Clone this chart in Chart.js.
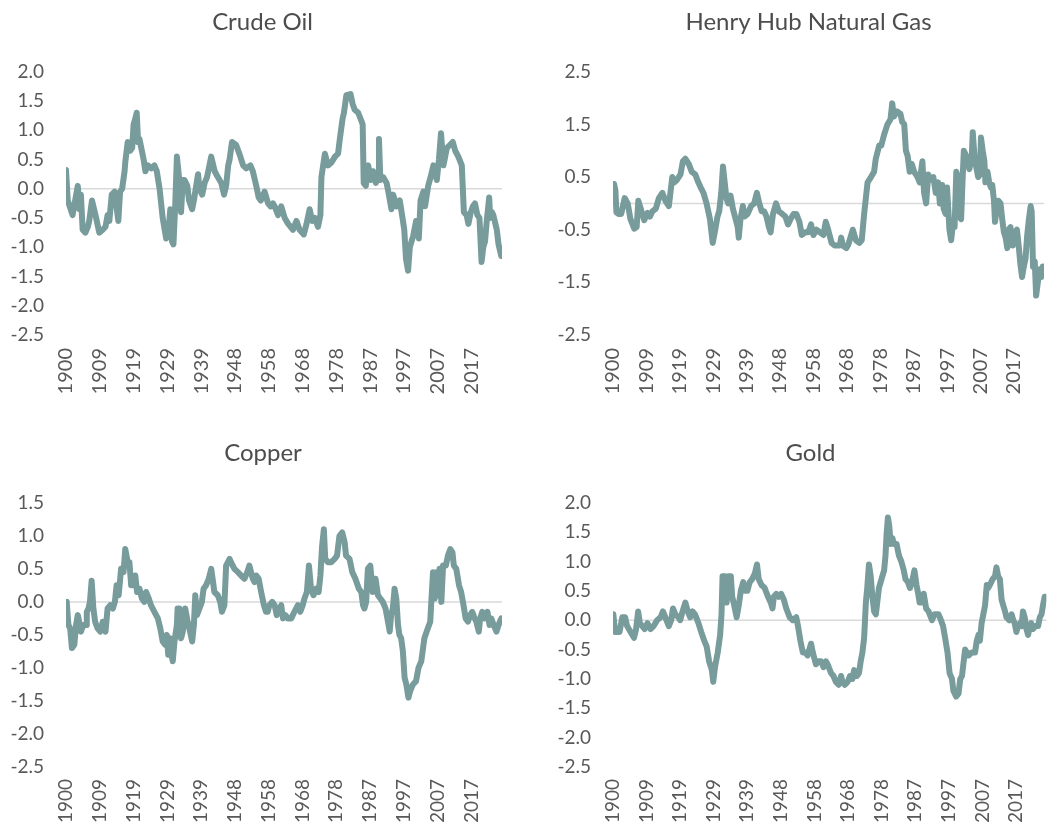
<!DOCTYPE html>
<html>
<head>
<meta charset="utf-8">
<script src="https://cdn.jsdelivr.net/npm/chart.js@4"></script>
<style>
  html, body { margin: 0; padding: 0; background: #fff; overflow: hidden; }
  .panel { position: absolute; }
</style>
</head>
<body>
<div class="panel" style="left:0;top:0;width:525px;height:410px"><canvas id="oil"></canvas></div>
<div class="panel" style="left:530px;top:0;width:521px;height:410px"><canvas id="gas"></canvas></div>
<div class="panel" style="left:0;top:431px;width:525px;height:392px"><canvas id="copper"></canvas></div>
<div class="panel" style="left:530px;top:431px;width:521px;height:392px"><canvas id="gold"></canvas></div>
<script>
// x axis tick labels and where they sit (in years)
const tickLabels = ['1900', '1909', '1919', '1929', '1939', '1948', '1958', '1968', '1978', '1987', '1997', '2007', '2017'];
const tickYears = [1900, 1909.75, 1919.5, 1929.25, 1939, 1948.75, 1958.5, 1968.25, 1978, 1987.75, 1997.5, 2007.25, 2017];

// Crude Oil
const oilYears = [1900.0, 1900.5, 1901.9, 1903.4, 1903.9, 1904.3, 1904.8, 1905.6, 1906.3, 1906.7, 1907.5, 1908.7, 1909.6, 1910.6, 1911.4, 1912.0, 1912.5, 1913.2, 1914.0, 1915.1, 1915.6, 1916.2, 1916.9, 1917.1, 1917.8, 1918.5, 1919.1, 1919.5, 1920.0, 1920.4, 1920.8, 1921.2, 1922.4, 1922.9, 1923.6, 1924.6, 1925.5, 1926.2, 1927.0, 1927.9, 1928.9, 1929.6, 1930.1, 1930.6, 1931.0, 1931.5, 1932.0, 1932.6, 1933.2, 1933.7, 1934.2, 1935.0, 1935.5, 1936.4, 1936.9, 1938.1, 1938.5, 1939.3, 1940.0, 1940.7, 1941.9, 1942.9, 1943.8, 1944.8, 1945.6, 1946.2, 1946.8, 1947.2, 1947.9, 1949.1, 1950.3, 1951.1, 1952.0, 1953.2, 1953.9, 1954.9, 1955.6, 1956.2, 1957.3, 1958.3, 1959.0, 1959.7, 1960.2, 1961.2, 1962.1, 1963.1, 1964.1, 1965.5, 1966.5, 1967.4, 1968.6, 1969.4, 1970.3, 1971.0, 1971.8, 1972.7, 1973.4, 1973.7, 1974.7, 1975.6, 1976.6, 1977.6, 1978.5, 1979.0, 1979.8, 1980.2, 1980.9, 1982.1, 1982.7, 1983.3, 1984.3, 1985.3, 1985.6, 1985.9, 1986.5, 1987.2, 1987.9, 1988.6, 1989.4, 1990.1, 1990.3, 1990.7, 1991.5, 1992.5, 1993.0, 1993.9, 1994.4, 1995.4, 1996.3, 1997.1, 1997.6, 1998.1, 1998.7, 1999.2, 2000.2, 2001.0, 2001.3, 2001.8, 2002.3, 2003.1, 2003.6, 2004.5, 2005.2, 2006.0, 2007.0, 2007.6, 2008.2, 2008.9, 2009.9, 2010.8, 2011.6, 2012.3, 2013.2, 2014.2, 2014.5, 2014.8, 2015.6, 2016.1, 2016.8, 2017.4, 2018.0, 2018.7, 2019.3, 2019.9, 2020.4, 2020.9, 2021.4, 2022.1, 2022.4, 2022.9, 2023.3, 2024.3, 2024.8, 2025.6];
const oilValues = [0.32, -0.2, -0.45, 0.05, -0.35, -0.1, -0.7, -0.75, -0.65, -0.55, -0.2, -0.5, -0.75, -0.7, -0.65, -0.45, -0.55, -0.1, -0.05, -0.55, -0.05, 0.0, 0.3, 0.45, 0.8, 0.65, 0.7, 1.1, 1.2, 1.3, 0.8, 0.85, 0.5, 0.3, 0.4, 0.35, 0.4, 0.3, 0.0, -0.5, -0.85, -0.7, -0.35, -0.9, -0.95, -0.3, 0.55, 0.2, -0.4, 0.15, 0.15, 0.05, -0.2, -0.35, -0.2, 0.25, 0.0, -0.1, 0.1, 0.2, 0.55, 0.3, 0.2, 0.1, -0.1, 0.05, 0.4, 0.5, 0.8, 0.75, 0.55, 0.4, 0.35, 0.4, 0.3, 0.05, -0.15, -0.2, -0.05, -0.25, -0.3, -0.25, -0.3, -0.45, -0.3, -0.5, -0.6, -0.7, -0.55, -0.7, -0.78, -0.6, -0.35, -0.55, -0.5, -0.65, -0.45, 0.2, 0.6, 0.4, 0.45, 0.55, 0.6, 0.85, 1.2, 1.3, 1.6, 1.62, 1.45, 1.35, 1.3, 1.15, 1.1, 0.1, 0.05, 0.4, 0.15, 0.3, 0.1, 0.2, 0.85, 0.15, 0.2, 0.1, -0.05, -0.35, -0.1, -0.3, -0.2, -0.5, -0.7, -1.2, -1.4, -1.0, -0.8, -0.55, -0.6, -0.85, -0.2, -0.05, -0.3, 0.05, 0.2, 0.4, 0.15, 0.5, 0.95, 0.4, 0.7, 0.75, 0.8, 0.65, 0.55, 0.4, 0.0, -0.4, -0.45, -0.6, -0.4, -0.3, -0.25, -0.45, -0.5, -1.25, -1.0, -0.9, -0.55, -0.15, -0.5, -0.4, -0.45, -0.7, -0.95, -1.15];

// Henry Hub Natural Gas
const gasYears = [1900.3, 1900.7, 1901.0, 1901.6, 1902.4, 1903.4, 1904.3, 1905.1, 1906.2, 1906.9, 1907.4, 1908.1, 1909.1, 1910.1, 1910.8, 1911.5, 1912.5, 1913.4, 1914.4, 1915.3, 1916.3, 1917.3, 1917.9, 1918.7, 1919.7, 1920.4, 1921.1, 1922.1, 1923.0, 1924.0, 1924.9, 1925.6, 1926.4, 1927.3, 1928.3, 1929.1, 1929.7, 1930.5, 1931.0, 1931.6, 1932.1, 1932.6, 1933.1, 1933.6, 1934.3, 1935.0, 1935.8, 1936.4, 1936.7, 1937.2, 1937.9, 1938.4, 1939.3, 1940.3, 1941.2, 1942.0, 1942.7, 1943.4, 1944.1, 1944.8, 1945.5, 1946.0, 1946.7, 1947.6, 1948.4, 1949.4, 1950.3, 1951.1, 1951.8, 1952.7, 1953.5, 1954.4, 1955.1, 1956.1, 1957.0, 1957.8, 1958.5, 1959.4, 1960.4, 1961.4, 1962.1, 1962.8, 1963.8, 1964.7, 1966.2, 1966.6, 1967.1, 1968.1, 1968.7, 1970.0, 1970.9, 1971.9, 1972.6, 1973.3, 1974.3, 1975.3, 1976.2, 1976.7, 1977.7, 1978.3, 1979.1, 1980.1, 1981.0, 1981.5, 1982.0, 1982.9, 1983.9, 1984.4, 1985.0, 1985.5, 1986.0, 1986.6, 1987.2, 1987.9, 1988.9, 1989.5, 1990.3, 1990.8, 1991.4, 1992.0, 1992.7, 1993.5, 1994.2, 1994.9, 1995.4, 1996.1, 1996.5, 1997.1, 1997.5, 1998.2, 1998.7, 1999.2, 1999.7, 2000.2, 2000.7, 2001.1, 2001.6, 2002.1, 2002.4, 2003.1, 2004.0, 2004.7, 2005.0, 2005.5, 2006.0, 2006.6, 2007.1, 2007.4, 2007.9, 2008.4, 2008.7, 2009.3, 2009.8, 2010.3, 2010.7, 2011.2, 2011.5, 2011.9, 2012.5, 2013.1, 2013.6, 2014.1, 2014.6, 2015.1, 2015.5, 2016.0, 2016.7, 2017.3, 2017.9, 2018.4, 2018.9, 2019.4, 2019.9, 2020.4, 2020.9, 2021.4, 2021.9, 2022.2, 2022.6, 2023.1, 2023.5, 2024.0, 2024.5, 2025.0, 2025.4, 2025.8];
const gasValues = [0.37, 0.25, -0.17, -0.2, -0.2, 0.1, 0.0, -0.3, -0.48, -0.45, 0.05, -0.1, -0.32, -0.18, -0.25, -0.15, -0.1, 0.1, 0.2, 0.05, -0.05, 0.5, 0.4, 0.45, 0.55, 0.8, 0.85, 0.75, 0.6, 0.55, 0.4, 0.3, 0.2, 0.0, -0.3, -0.75, -0.55, -0.25, -0.15, 0.2, 0.7, 0.4, 0.1, 0.0, 0.15, -0.1, -0.3, -0.45, -0.65, -0.3, -0.05, -0.25, -0.2, -0.05, 0.0, 0.2, 0.0, -0.15, -0.15, -0.25, -0.45, -0.55, -0.2, 0.0, -0.15, -0.2, -0.25, -0.4, -0.3, -0.2, -0.2, -0.35, -0.6, -0.55, -0.55, -0.4, -0.6, -0.5, -0.55, -0.6, -0.35, -0.5, -0.75, -0.8, -0.8, -0.65, -0.8, -0.85, -0.78, -0.5, -0.7, -0.75, -0.7, -0.2, 0.4, 0.5, 0.6, 0.85, 1.1, 1.1, 1.3, 1.5, 1.6, 1.9, 1.65, 1.75, 1.7, 1.55, 1.5, 1.0, 0.9, 0.6, 0.75, 0.6, 0.5, 0.4, 0.8, 0.2, 0.0, 0.55, 0.45, 0.5, 0.2, 0.4, 0.0, 0.35, -0.1, -0.2, 0.3, -0.5, -0.7, -0.4, -0.45, 0.6, 0.5, -0.25, -0.3, 0.55, 1.0, 0.9, 0.65, 0.85, 1.35, 0.9, 0.7, 0.5, 0.55, 1.25, 1.0, 0.8, 0.4, 0.6, 0.4, 0.3, 0.35, 0.05, -0.35, -0.15, 0.05, 0.0, -0.3, -0.55, -0.65, -0.85, -0.5, -0.45, -0.8, -0.55, -0.5, -0.8, -1.15, -1.4, -1.2, -1.05, -0.6, -0.3, -0.05, -0.15, -1.2, -1.1, -1.75, -1.5, -1.25, -1.4, -1.2, -1.3];

// Copper
const copperYears = [1900.2, 1900.7, 1901.2, 1901.7, 1902.4, 1902.9, 1903.4, 1903.8, 1904.3, 1905.0, 1905.8, 1906.0, 1906.5, 1906.9, 1907.4, 1907.9, 1908.4, 1909.1, 1909.9, 1910.6, 1911.4, 1912.0, 1912.8, 1913.5, 1914.1, 1914.6, 1915.2, 1915.9, 1916.6, 1917.1, 1917.8, 1918.3, 1918.8, 1919.2, 1920.0, 1920.5, 1921.2, 1921.9, 1922.6, 1923.1, 1923.9, 1924.5, 1925.5, 1926.5, 1927.2, 1927.9, 1928.6, 1929.1, 1929.5, 1930.0, 1930.3, 1930.8, 1931.3, 1932.0, 1932.2, 1932.7, 1933.2, 1933.7, 1934.4, 1935.1, 1935.8, 1936.4, 1936.9, 1937.3, 1937.8, 1938.5, 1939.2, 1939.7, 1940.4, 1941.2, 1941.9, 1942.3, 1942.8, 1943.8, 1944.5, 1945.0, 1945.7, 1946.2, 1947.2, 1947.6, 1948.6, 1949.6, 1950.5, 1951.5, 1952.3, 1952.9, 1953.4, 1953.9, 1954.4, 1954.9, 1955.6, 1956.3, 1957.1, 1957.7, 1958.2, 1958.7, 1959.5, 1960.2, 1960.8, 1961.4, 1962.1, 1962.6, 1963.3, 1964.0, 1965.0, 1965.9, 1966.9, 1967.6, 1968.3, 1968.8, 1969.5, 1970.1, 1970.7, 1971.4, 1972.2, 1972.9, 1973.4, 1973.9, 1974.4, 1974.8, 1975.6, 1976.5, 1977.5, 1978.2, 1978.9, 1979.7, 1980.4, 1980.8, 1981.8, 1982.6, 1983.5, 1984.5, 1985.2, 1985.7, 1986.1, 1986.6, 1987.1, 1987.8, 1988.5, 1989.3, 1990.0, 1990.7, 1991.4, 1992.2, 1992.9, 1993.4, 1993.8, 1994.3, 1994.8, 1995.3, 1995.8, 1996.2, 1996.7, 1997.2, 1997.7, 1998.2, 1998.8, 1999.3, 2000.1, 2001.0, 2001.7, 2002.5, 2002.9, 2003.4, 2004.4, 2005.1, 2005.4, 2005.9, 2006.4, 2006.9, 2007.4, 2007.8, 2008.3, 2008.8, 2009.6, 2010.2, 2010.9, 2011.5, 2011.9, 2012.6, 2013.4, 2014.0, 2014.7, 2015.3, 2016.0, 2016.6, 2017.2, 2017.9, 2018.4, 2019.1, 2019.5, 2020.1, 2020.8, 2021.6, 2022.2, 2022.7, 2023.4, 2024.2, 2024.8, 2025.6];
const copperValues = [0.0, -0.35, -0.4, -0.7, -0.65, -0.35, -0.2, -0.3, -0.45, -0.35, -0.35, -0.15, -0.1, 0.0, 0.32, -0.1, -0.3, -0.4, -0.45, -0.3, -0.45, -0.1, -0.05, -0.1, 0.0, 0.25, 0.1, 0.5, 0.45, 0.8, 0.6, 0.6, 0.25, 0.25, 0.4, 0.15, 0.2, 0.05, 0.0, 0.15, 0.05, -0.05, -0.15, -0.25, -0.4, -0.6, -0.65, -0.5, -0.8, -0.55, -0.75, -0.9, -0.6, -0.35, -0.1, -0.1, -0.55, -0.45, -0.1, -0.3, -0.45, -0.6, -0.35, 0.1, -0.2, -0.1, 0.0, 0.2, 0.25, 0.35, 0.5, 0.35, 0.15, 0.1, 0.0, -0.15, -0.05, 0.55, 0.65, 0.6, 0.5, 0.45, 0.4, 0.35, 0.45, 0.55, 0.45, 0.35, 0.3, 0.4, 0.35, 0.15, -0.05, -0.15, -0.15, -0.05, 0.0, -0.05, -0.2, -0.15, -0.05, -0.25, -0.2, -0.25, -0.25, -0.15, -0.05, -0.15, -0.05, 0.05, 0.15, 0.55, 0.2, 0.1, 0.2, 0.15, 0.4, 0.85, 1.1, 0.65, 0.6, 0.6, 0.65, 0.7, 1.0, 1.05, 0.9, 0.7, 0.65, 0.45, 0.35, 0.2, 0.15, -0.05, -0.1, 0.0, 0.5, 0.55, 0.15, 0.35, 0.1, 0.05, 0.0, -0.1, -0.3, -0.45, -0.2, -0.1, 0.2, 0.05, -0.35, -0.5, -0.55, -0.75, -1.15, -1.25, -1.45, -1.35, -1.25, -1.2, -1.0, -0.9, -0.75, -0.55, -0.4, -0.3, 0.0, 0.45, 0.05, 0.45, 0.1, 0.5, 0.0, 0.55, 0.55, 0.7, 0.8, 0.75, 0.55, 0.5, 0.25, 0.15, -0.05, -0.25, -0.3, -0.2, -0.15, -0.25, -0.3, -0.45, -0.25, -0.15, -0.25, -0.15, -0.35, -0.25, -0.35, -0.45, -0.35, -0.25];

// Gold
const goldYears = [1900.1, 1900.6, 1901.3, 1901.9, 1902.7, 1903.5, 1904.1, 1905.1, 1906.1, 1906.7, 1907.3, 1907.8, 1908.5, 1909.2, 1910.0, 1910.9, 1911.8, 1912.8, 1913.8, 1914.5, 1915.2, 1916.2, 1916.9, 1917.4, 1918.1, 1919.0, 1919.5, 1920.2, 1921.0, 1921.7, 1922.4, 1923.1, 1923.8, 1924.8, 1925.6, 1926.5, 1927.2, 1927.9, 1928.7, 1929.1, 1929.6, 1930.4, 1931.1, 1931.5, 1931.8, 1932.5, 1933.0, 1933.5, 1934.2, 1934.6, 1935.2, 1935.9, 1936.5, 1937.1, 1937.8, 1938.3, 1939.0, 1939.7, 1940.4, 1941.2, 1941.8, 1942.3, 1943.1, 1944.0, 1945.0, 1945.8, 1946.3, 1946.7, 1947.4, 1948.1, 1948.8, 1949.6, 1950.3, 1951.3, 1952.2, 1953.2, 1953.7, 1954.4, 1955.1, 1955.9, 1956.5, 1957.5, 1958.0, 1958.9, 1959.6, 1960.4, 1961.1, 1961.8, 1962.3, 1963.3, 1964.0, 1964.7, 1965.5, 1966.2, 1966.6, 1967.3, 1968.1, 1968.8, 1969.5, 1970.0, 1970.8, 1971.4, 1971.9, 1972.4, 1972.9, 1973.4, 1973.8, 1974.3, 1974.8, 1975.3, 1975.8, 1976.3, 1976.7, 1977.2, 1977.7, 1978.2, 1978.7, 1979.1, 1979.4, 1979.8, 1980.2, 1980.6, 1981.1, 1981.5, 1982.3, 1983.0, 1983.7, 1984.4, 1984.9, 1985.6, 1986.2, 1986.8, 1987.5, 1988.1, 1988.6, 1989.0, 1989.7, 1990.2, 1990.9, 1991.6, 1992.6, 1993.3, 1994.5, 1995.2, 1995.8, 1996.4, 1997.1, 1997.7, 1998.4, 1998.8, 1999.6, 2000.3, 2000.8, 2001.3, 2001.7, 2002.2, 2002.7, 2003.2, 2004.1, 2005.1, 2005.6, 2006.1, 2006.5, 2007.0, 2007.5, 2008.0, 2008.5, 2008.9, 2009.4, 2010.2, 2010.9, 2011.3, 2011.8, 2012.3, 2012.8, 2013.3, 2013.8, 2014.2, 2015.0, 2015.7, 2016.2, 2016.6, 2017.1, 2017.6, 2018.1, 2018.6, 2019.0, 2019.5, 2020.0, 2020.5, 2021.0, 2021.4, 2021.9, 2022.6, 2023.4, 2023.9, 2024.4, 2024.8, 2025.3];
const goldValues = [0.1, -0.2, -0.2, -0.2, 0.05, 0.05, -0.1, -0.2, -0.3, -0.15, 0.15, -0.05, -0.1, -0.15, -0.05, -0.15, -0.1, 0.0, 0.05, 0.15, 0.05, -0.1, 0.0, 0.2, 0.1, 0.05, 0.0, 0.15, 0.3, 0.15, 0.05, 0.15, 0.1, -0.05, -0.2, -0.35, -0.45, -0.7, -0.85, -1.05, -0.8, -0.55, -0.25, 0.1, 0.75, 0.75, 0.3, 0.75, 0.75, 0.4, 0.25, 0.05, 0.25, 0.5, 0.65, 0.5, 0.5, 0.65, 0.7, 0.8, 0.95, 0.7, 0.6, 0.55, 0.4, 0.3, 0.2, 0.4, 0.45, 0.4, 0.45, 0.35, 0.2, 0.05, 0.0, 0.05, -0.1, -0.35, -0.55, -0.55, -0.6, -0.4, -0.55, -0.75, -0.7, -0.7, -0.8, -0.7, -0.75, -0.9, -0.95, -1.05, -1.1, -0.95, -1.05, -1.1, -1.05, -0.95, -1.0, -0.85, -0.95, -0.9, -0.7, -0.55, -0.3, 0.3, 0.55, 0.95, 0.75, 0.4, 0.15, 0.1, 0.3, 0.55, 0.65, 0.75, 0.85, 1.1, 1.45, 1.75, 1.6, 1.3, 1.4, 1.3, 1.3, 1.1, 1.0, 0.85, 0.7, 0.65, 0.55, 0.65, 0.85, 0.6, 0.45, 0.3, 0.3, 0.45, 0.2, 0.15, 0.0, 0.1, 0.1, 0.0, -0.1, -0.3, -0.55, -0.9, -1.0, -1.2, -1.3, -1.25, -1.0, -0.95, -0.75, -0.5, -0.55, -0.6, -0.55, -0.55, -0.35, -0.25, -0.35, -0.05, 0.1, 0.25, 0.6, 0.55, 0.6, 0.7, 0.75, 0.9, 0.75, 0.7, 0.35, 0.25, 0.15, 0.05, 0.0, 0.1, 0.0, -0.05, -0.2, -0.1, -0.05, -0.1, 0.15, 0.05, -0.15, -0.25, -0.1, -0.05, -0.15, -0.1, -0.1, 0.05, 0.1, 0.25, 0.4];

const lineColor = '#789b9b';
const textColor = '#595959';
const fontFamily = "'Lato', 'Open Sans', sans-serif";

// light grey line along zero, drawn under the series
const zeroLine = {
    id: 'zeroLine',
    beforeDatasetsDraw(chart) {
        const { ctx, chartArea, scales } = chart;
        const py = scales.y.getPixelForValue(0);
        ctx.save();
        ctx.strokeStyle = '#d9d9d9';
        ctx.lineWidth = 1.5;
        ctx.beginPath();
        ctx.moveTo(chartArea.left, py);
        ctx.lineTo(chartArea.right, py);
        ctx.stroke();
        ctx.restore();
    }
};

// centre the title over the whole panel, not just the space right of the y axis
const titleCentre = {
    id: 'titleCentre',
    afterLayout(chart, args, opts) {
        const t = chart.titleBlock;
        if (!t || opts.centre == null) return;
        const half = (t.right - t.left) / 2;
        t.left = opts.centre - half;
        t.right = opts.centre + half;
    }
};

function makeChart(id, title, years, values, yMin, yMax, yStep, titleX, yWidth, xHeight, rightPad, xFont, xPad) {
    const ctx = document.getElementById(id).getContext('2d');
    return new Chart(ctx, {
        type: 'line',
        data: {
            datasets: [{
                label: title,
                data: years.map((yr, i) => ({ x: yr, y: values[i] })),
                borderColor: lineColor,
                borderWidth: 6,
                borderJoinStyle: 'round',
                borderCapStyle: 'round',
                pointRadius: 0,
                tension: 0,
                fill: false
            }]
        },
        options: {
            responsive: true,
            maintainAspectRatio: false,
            animation: false,
            layout: { padding: { left: 0, right: rightPad, top: 0, bottom: 0 } },
            plugins: {
                legend: { display: false },
                tooltip: { enabled: false },
                titleCentre: { centre: titleX },
                title: {
                    display: true,
                    text: title,
                    color: '#4d4d4d',
                    font: { family: fontFamily, size: 24, weight: 'normal' },
                    padding: { top: 8, bottom: 35 }
                }
            },
            scales: {
                x: {
                    type: 'linear',
                    min: 1900,
                    max: 2025.8,
                    grid: { display: false, drawTicks: false },
                    border: { display: false },
                    afterBuildTicks: (scale) => {
                        scale.ticks = tickYears.map(v => ({ value: v }));
                    },
                    afterFit: (scale) => { scale.height = xHeight; },
                    ticks: {
                        autoSkip: false,
                        minRotation: 90,
                        maxRotation: 90,
                        padding: xPad,
                        color: textColor,
                        font: { family: fontFamily, size: xFont },
                        callback: (value, index) => tickLabels[index]
                    }
                },
                y: {
                    min: yMin,
                    max: yMax,
                    grid: { display: false, drawTicks: false },
                    border: { display: false },
                    afterFit: (scale) => { scale.width = yWidth; },
                    ticks: {
                        stepSize: yStep,
                        padding: 22,
                        color: textColor,
                        font: { family: fontFamily, size: 19 },
                        callback: (value) => value.toFixed(1)
                    }
                }
            }
        },
        plugins: [zeroLine, titleCentre]
    });
}

makeChart('oil', 'Crude Oil', oilYears, oilValues, -2.5, 2.0, 0.5, 262.5, 66, 75, 23, 20, 13);
makeChart('gas', 'Henry Hub Natural Gas', gasYears, gasValues, -2.5, 2.5, 1.0, 278.5, 83, 75, 2, 20, 13);
makeChart('copper', 'Copper', copperYears, copperValues, -2.5, 1.5, 0.5, 263, 66, 56, 23, 19, 12);
makeChart('gold', 'Gold', goldYears, goldValues, -2.5, 2.0, 0.5, 280.5, 83, 56, 2, 19, 12);
</script>
</body>
</html>
